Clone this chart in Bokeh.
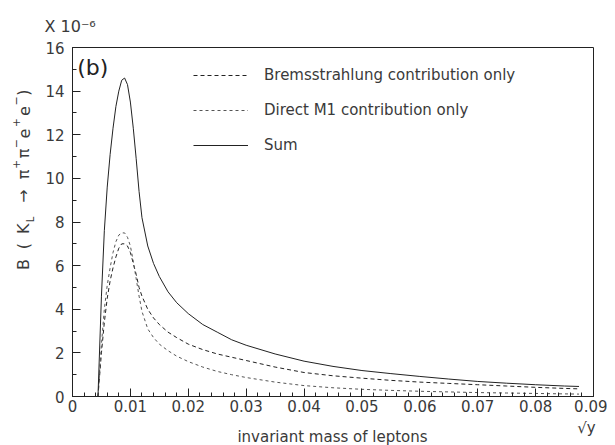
from bokeh.plotting import figure
from bokeh.models import Label, Legend, LegendItem, FixedTicker, Range1d, ColumnDataSource
from bokeh.layouts import row, column
from bokeh.embed import file_html
from bokeh.resources import INLINE
import math

# ---- data (units of 1e-6) ----
mass = [0.0044, 0.0050, 0.0055, 0.0060, 0.0065, 0.0070, 0.0075, 0.0080, 0.0085, 0.0090,
        0.0095, 0.0100, 0.0105, 0.0110, 0.0115, 0.0120, 0.0130, 0.0140, 0.0150, 0.0165,
        0.0180, 0.0200, 0.0225, 0.0250, 0.0275, 0.0300, 0.0350, 0.0400, 0.0450, 0.0500,
        0.0550, 0.0600, 0.0650, 0.0700, 0.0750, 0.0800, 0.0850, 0.0875]
total = [0.0, 4.6, 7.6, 9.6, 11.1, 12.3, 13.3, 14.0, 14.5, 14.6,
         14.3, 13.5, 12.3, 10.9, 9.4, 8.2, 6.9, 6.1, 5.5, 4.8,
         4.3, 3.8, 3.3, 2.95, 2.6, 2.35, 1.95, 1.62, 1.38, 1.19,
         1.05, 0.92, 0.80, 0.69, 0.61, 0.54, 0.48, 0.46]
brems = [0.0, 2.0, 3.4, 4.5, 5.3, 5.9, 6.4, 6.8, 7.0, 7.0,
         6.9, 6.6, 6.1, 5.6, 5.0, 4.6, 4.0, 3.6, 3.3, 2.95,
         2.7, 2.4, 2.15, 1.95, 1.8, 1.65, 1.35, 1.1, 0.95, 0.84,
         0.74, 0.66, 0.6, 0.54, 0.48, 0.42, 0.37, 0.35]
m1 = [0.0, 2.4, 4.0, 5.1, 5.9, 6.6, 7.1, 7.4, 7.5, 7.5,
      7.3, 6.9, 6.2, 5.4, 4.6, 3.9, 3.1, 2.7, 2.4, 2.1,
      1.85, 1.6, 1.35, 1.15, 1.0, 0.87, 0.66, 0.5, 0.4, 0.33,
      0.28, 0.24, 0.21, 0.18, 0.16, 0.14, 0.12, 0.11]

x_ticks = [0, 0.01, 0.02, 0.03, 0.04, 0.05, 0.06, 0.07, 0.08, 0.09]
x_tick_labels = ["0", "0.01", "0.02", "0.03", "0.04", "0.05", "0.06", "0.07", "0.08", "0.09"]
y_ticks = [0, 2, 4, 6, 8, 10, 12, 14, 16]
y_tick_labels = ["0", "2", "4", "6", "8", "10", "12", "14", "16"]
legend_labels = ["Bremsstrahlung contribution only", "Direct M1 contribution only", "Sum"]
x_title = "invariant mass of leptons"
x_unit = "\u221ay"

# y-axis title  B (K_L -> pi+ pi- e+ e-)  as pieces: text, role (n=normal, sub, sup)
ytitle_text = ["B", "(", "K", "L", "\u2192", "\u03c0", "+", "\u03c0", "\u2212", "e", "+", "e", "\u2212", ")"]
ytitle_role = ["n", "n", "n", "sub", "n", "n", "sup", "n", "sup", "n", "sup", "n", "sup", "n"]
ytitle_page_y = [260, 238, 217, 206, 178, 152, 140, 127, 115, 103, 90, 76, 64, 54]

FONT = "DejaVu Sans"
TXT = "#3a3a3a"
INK = "#222222"
W = 607
H_TOP = 418
H_BOT = 27
LEFT_W = 40

# ---------- left strip holding the rotated y title ----------
pl = figure(width=LEFT_W, height=H_TOP, x_range=Range1d(0, LEFT_W), y_range=Range1d(0, H_TOP),
            output_backend="svg", toolbar_location=None, min_border=0,
            x_axis_type=None, y_axis_type=None)
pl.outline_line_color = None
pl.background_fill_color = "white"
pl.border_fill_color = "white"
role_x = {"n": 23, "sub": 29.5, "sup": 15}
role_size = {"n": "16px", "sub": "10px", "sup": "11px"}
ysrc = ColumnDataSource(dict(
    text=ytitle_text,
    x=[role_x[r] for r in ytitle_role],
    y=[H_TOP - v for v in ytitle_page_y],
    size=[role_size[r] for r in ytitle_role]))
pl.text(x="x", y="y", text="text", source=ysrc, angle=math.pi / 2,
        text_font_size="size", text_align="center", text_baseline="middle",
        text_color=TXT, text_font={"value": FONT})

# ---------- main plot ----------
p = figure(width=W - LEFT_W, height=H_TOP, x_range=Range1d(0, 0.09), y_range=Range1d(0, 16),
           output_backend="svg", toolbar_location=None,
           min_border_left=72 - LEFT_W, min_border_right=14, min_border_top=47,
           min_border_bottom=H_TOP - 396)
p.background_fill_color = "white"
p.border_fill_color = "white"
p.outline_line_color = INK
p.outline_line_width = 1
p.grid.visible = False

p.title.text = "X 10\u207b\u2076"
p.title.align = "left"
p.title.offset = -28
p.title.standoff = 24
p.title.text_font = FONT
p.title.text_font_size = "16px"
p.title.text_font_style = "normal"
p.title.text_color = TXT

p.xaxis.ticker = FixedTicker(ticks=x_ticks, minor_ticks=[round(i * 0.002, 3) for i in range(46)])
p.xaxis.major_label_overrides = {t: s for t, s in zip(x_ticks, x_tick_labels)}
p.yaxis.ticker = FixedTicker(ticks=y_ticks, minor_ticks=list(range(17)))
p.yaxis.major_label_overrides = {t: s for t, s in zip(y_ticks, y_tick_labels)}
for ax in (p.xaxis[0], p.yaxis[0]):
    ax.major_tick_in = 8
    ax.major_tick_out = 0
    ax.minor_tick_in = 4
    ax.minor_tick_out = 0
    ax.axis_line_color = INK
    ax.major_tick_line_color = INK
    ax.minor_tick_line_color = INK
    ax.major_label_text_font = FONT
    ax.major_label_text_font_size = "15px"
    ax.major_label_text_color = TXT
    ax.major_label_text_font_style = "normal"
p.xaxis.major_label_standoff = 3
p.yaxis.major_label_standoff = 8

src = ColumnDataSource(dict(x=mass, total=total, brems=brems, m1=m1))
r_b = p.line("x", "brems", source=src, line_color=INK, line_width=1, line_dash="4 3")
r_m = p.line("x", "m1", source=src, line_color="#555555", line_width=1, line_dash="3 3")
r_s = p.line("x", "total", source=src, line_color=INK, line_width=1)

leg = Legend(items=[LegendItem(label=legend_labels[0], renderers=[r_b]),
                    LegendItem(label=legend_labels[1], renderers=[r_m]),
                    LegendItem(label=legend_labels[2], renderers=[r_s])],
             location=(121, 241), orientation="vertical",
             background_fill_alpha=0, border_line_alpha=0,
             label_text_font=FONT, label_text_font_size="15px", label_text_color=TXT,
             glyph_width=55, glyph_height=20, label_height=20, spacing=15,
             label_standoff=16, padding=0, margin=0)
p.add_layout(leg)

p.add_layout(Label(x=0.0008, y=15.1, text="(b)", text_font=FONT, text_font_size="22px",
                   text_color=INK, text_align="left", text_baseline="middle"))

# ---------- bottom strip: x title and the sqrt(y) unit ----------
pb = figure(width=W, height=H_BOT, x_range=Range1d(0, W), y_range=Range1d(0, H_BOT),
            output_backend="svg", toolbar_location=None, min_border=0,
            x_axis_type=None, y_axis_type=None)
pb.outline_line_color = None
pb.background_fill_color = "white"
pb.border_fill_color = "white"
bsrc = ColumnDataSource(dict(text=[x_unit, x_title], x=[586, 332], y=[H_BOT - 9, 9],
                             size=["15px", "15px"]))
pb.text(x="x", y="y", text="text", source=bsrc, text_font_size="size",
        text_align="center", text_baseline="middle", text_color=TXT,
        text_font={"value": FONT})

layout = column(row(pl, p), pb)
open("out.html", "w").write(file_html(layout, INLINE))
